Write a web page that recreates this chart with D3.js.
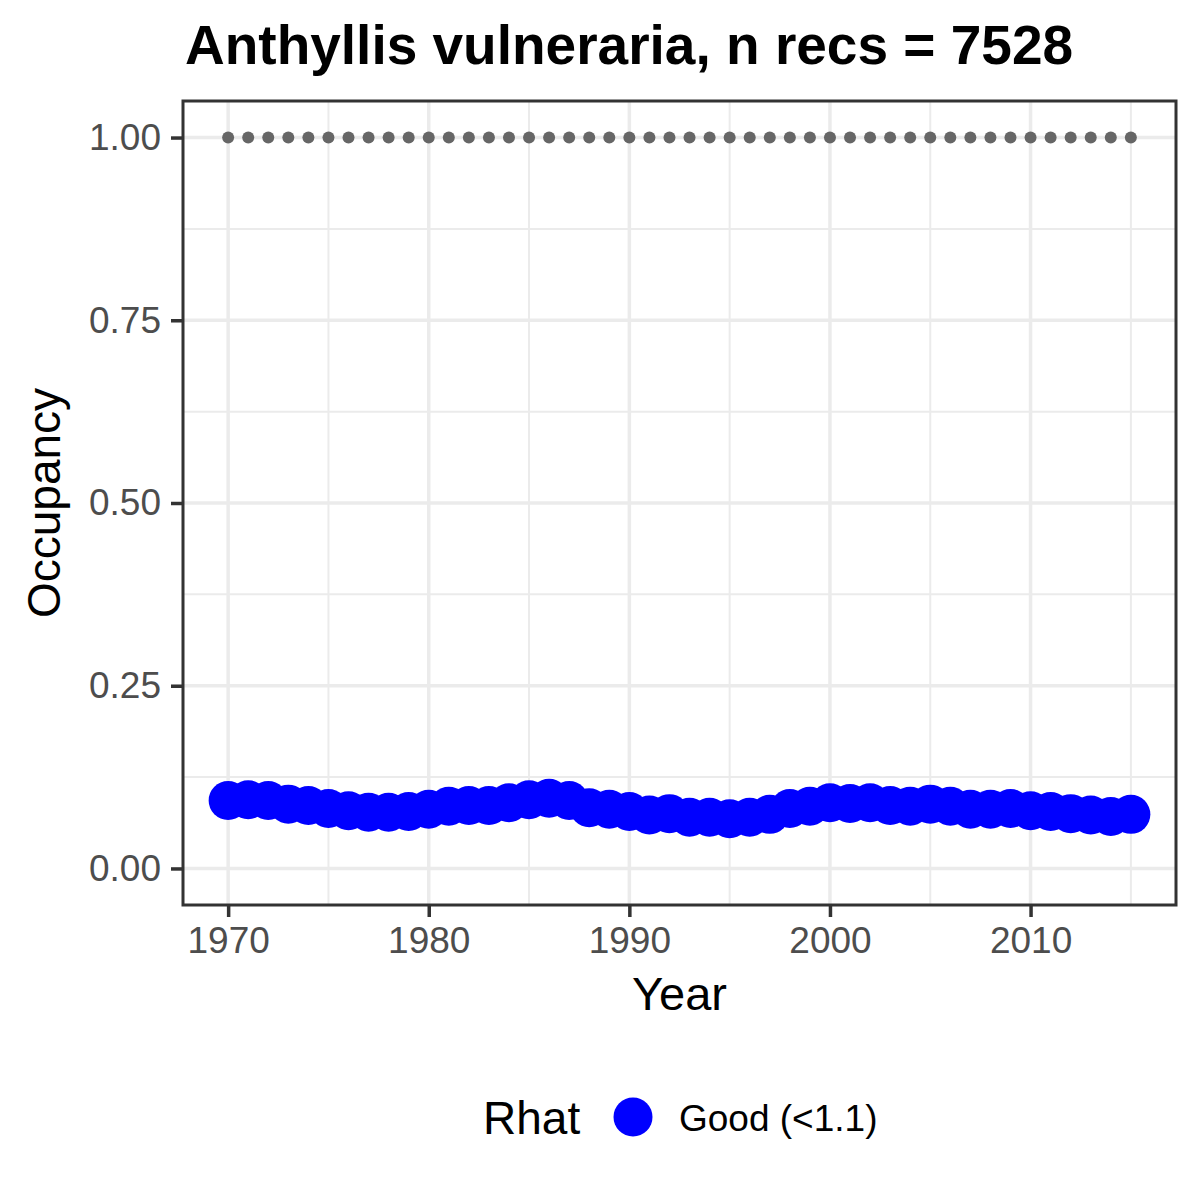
<!DOCTYPE html>
<html>
<head>
<meta charset="utf-8">
<script src="https://cdn.jsdelivr.net/npm/d3@7/dist/d3.min.js"></script>
<style>
  html, body { margin: 0; padding: 0; background: #fff; }
  svg { display: block; font-family: "Liberation Sans", Arial, sans-serif; }
</style>
</head>
<body>
<script>
// ---- data ----
const years = [1970,1971,1972,1973,1974,1975,1976,1977,1978,1979,
               1980,1981,1982,1983,1984,1985,1986,1987,1988,1989,
               1990,1991,1992,1993,1994,1995,1996,1997,1998,1999,
               2000,2001,2002,2003,2004,2005,2006,2007,2008,2009,
               2010,2011,2012,2013,2014,2015];
const occupancy = [0.093,0.094,0.093,0.088,0.086,0.082,0.079,0.077,0.077,0.078,
                   0.081,0.085,0.086,0.086,0.090,0.094,0.096,0.093,0.083,0.081,
                   0.078,0.073,0.075,0.070,0.070,0.068,0.070,0.074,0.082,0.085,
                   0.090,0.089,0.090,0.086,0.085,0.088,0.085,0.081,0.081,0.082,
                   0.079,0.078,0.075,0.073,0.071,0.074];
const upper = [1,1,1,1,1,1,1,1,1,1,1,1,1,1,1,1,1,1,1,1,1,1,1,1,
               1,1,1,1,1,1,1,1,1,1,1,1,1,1,1,1,1,1,1,1,1,1];
const xTicks = [1970,1980,1990,2000,2010];
const xMinor = [1975,1985,1995,2005,2015];
const yTicks = [0,0.25,0.5,0.75,1];
const yMinor = [0.125,0.375,0.625,0.875];
const titleText = "Anthyllis vulneraria, n recs = 7528";
const legendTitle = "Rhat";
const legendLabel = "Good (<1.1)";

// ---- layout ----
const W = 1200, H = 1200;
const P = {left: 183, right: 1176, top: 101, bottom: 905};

const svg = d3.select("body").append("svg").attr("width", W).attr("height", H);
svg.append("rect").attr("width", W).attr("height", H).attr("fill", "#fff");

const xExt = d3.extent(years);
const xPad = (xExt[1] - xExt[0]) * 0.05;
const x = d3.scaleLinear().domain([xExt[0] - xPad, xExt[1] + xPad]).range([P.left, P.right]);
const y = d3.scaleLinear().domain([-0.05, 1.05]).range([P.bottom, P.top]);

const panel = svg.append("g");
panel.append("rect").attr("x", P.left).attr("y", P.top)
  .attr("width", P.right - P.left).attr("height", P.bottom - P.top).attr("fill", "#fff");

// grid
const grid = panel.append("g").attr("stroke", "#EBEBEB");
grid.selectAll(".ymin").data(yMinor).join("line")
  .attr("x1", P.left).attr("x2", P.right).attr("y1", d => y(d)).attr("y2", d => y(d)).attr("stroke-width", 2);
grid.selectAll(".xmin").data(xMinor).join("line")
  .attr("y1", P.top).attr("y2", P.bottom).attr("x1", d => x(d)).attr("x2", d => x(d)).attr("stroke-width", 2);
grid.selectAll(".ymaj").data(yTicks).join("line")
  .attr("x1", P.left).attr("x2", P.right).attr("y1", d => y(d)).attr("y2", d => y(d)).attr("stroke-width", 3.5);
grid.selectAll(".xmaj").data(xTicks).join("line")
  .attr("y1", P.top).attr("y2", P.bottom).attr("x1", d => x(d)).attr("x2", d => x(d)).attr("stroke-width", 3.5);

// gray points
panel.append("g").selectAll("circle").data(years).join("circle")
  .attr("cx", d => x(d)).attr("cy", (d, i) => y(upper[i])).attr("r", 6).attr("fill", "#666666");

// blue points
panel.append("g").selectAll("circle").data(years).join("circle")
  .attr("cx", d => x(d)).attr("cy", (d, i) => y(occupancy[i])).attr("r", 19.5).attr("fill", "#0000FF");

// border
svg.append("rect").attr("x", P.left).attr("y", P.top)
  .attr("width", P.right - P.left).attr("height", P.bottom - P.top)
  .attr("fill", "none").attr("stroke", "#333333").attr("stroke-width", 3);

// axes
const xAxis = d3.axisBottom(x).tickValues(xTicks).tickFormat(d3.format("d")).tickSize(12).tickPadding(10);
const gx = svg.append("g").attr("transform", `translate(0,${P.bottom})`).call(xAxis);
gx.select(".domain").remove();
gx.selectAll(".tick line").attr("stroke", "#333333").attr("stroke-width", 3.5);
gx.selectAll(".tick text").attr("fill", "#4D4D4D").attr("font-size", 37)
  .attr("font-family", "Liberation Sans, Arial, sans-serif");

const yAxis = d3.axisLeft(y).tickValues(yTicks).tickFormat(d3.format(".2f")).tickSize(12).tickPadding(10);
const gy = svg.append("g").attr("transform", `translate(${P.left},0)`).call(yAxis);
gy.select(".domain").remove();
gy.selectAll(".tick line").attr("stroke", "#333333").attr("stroke-width", 3.5);
gy.selectAll(".tick text").attr("fill", "#4D4D4D").attr("font-size", 37)
  .attr("font-family", "Liberation Sans, Arial, sans-serif");

// titles
svg.append("text").attr("x", P.left + 2).attr("y", 64).attr("font-size", 55).attr("font-weight", "bold")
  .attr("fill", "#000").text(titleText);
svg.append("text").attr("x", (P.left + P.right) / 2).attr("y", 1010).attr("text-anchor", "middle")
  .attr("font-size", 47).attr("fill", "#000").text("Year");
svg.append("text").attr("transform", `translate(60,${(P.top + P.bottom) / 2}) rotate(-90)`)
  .attr("text-anchor", "middle").attr("font-size", 46).attr("fill", "#000").text("Occupancy");

// legend
svg.append("text").attr("x", 483).attr("y", 1134).attr("font-size", 46).attr("fill", "#000").text(legendTitle);
svg.append("circle").attr("cx", 633).attr("cy", 1117).attr("r", 19.5).attr("fill", "#0000FF");
svg.append("text").attr("x", 679).attr("y", 1131).attr("font-size", 37).attr("fill", "#000").text(legendLabel);
</script>
</body>
</html>
